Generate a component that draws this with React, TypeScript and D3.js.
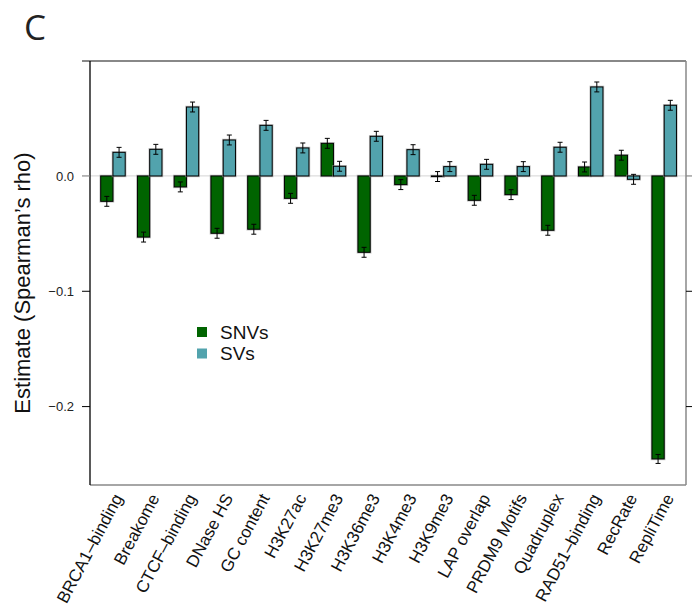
import React from "react";
import * as d3 from "d3";

const categories = [
  "BRCA1–binding", "Breakome", "CTCF–binding", "DNase HS", "GC content", "H3K27ac",
  "H3K27me3", "H3K36me3", "H3K4me3", "H3K9me3", "LAP overlap", "PRDM9 Motifs",
  "Quadruplex", "RAD51–binding", "RecRate", "RepliTime",
];
const series = ["SNVs", "SVs"];
const snvValues = [-0.022, -0.053, -0.0095, -0.0497, -0.0462, -0.0194, 0.0283, -0.0662, -0.0075, -0.0005, -0.0211, -0.0162, -0.0471, 0.0078, 0.018, -0.2454];
const svValues = [0.0205, 0.0231, 0.0598, 0.0312, 0.0439, 0.0243, 0.0084, 0.0344, 0.0228, 0.0081, 0.0101, 0.0081, 0.0249, 0.0772, -0.0029, 0.0613];
const snvErr = [0.0043, 0.0043, 0.0043, 0.0043, 0.0043, 0.0043, 0.0043, 0.0043, 0.0043, 0.0043, 0.0043, 0.0043, 0.0043, 0.0043, 0.0043, 0.0039];
const svErr = [0.0043, 0.0043, 0.0043, 0.0043, 0.0043, 0.0043, 0.0043, 0.0043, 0.0043, 0.0043, 0.0043, 0.0043, 0.0043, 0.0043, 0.0043, 0.0043];
const yTicks = [0.0, -0.1, -0.2];
const colors = ["#006400", "#52A3AD"];

const W = 692, H = 610;
const L = 90, R = 686, T = 61, B = 485;
const FONT = "'Liberation Sans', Arial, Helvetica, sans-serif";

export default function App() {
  const y = d3.scaleLinear().domain([-0.268, 0.0997]).range([B, T]);
  const x = d3.scaleBand<string>().domain(categories).range([100.7, 676.45]).paddingInner(1 / 3).paddingOuter(0);
  const xs = d3.scaleBand<string>().domain(series).range([0, x.bandwidth()]);
  const bw = xs.bandwidth();
  const vals = [snvValues, svValues];
  const errs = [snvErr, svErr];
  const fmt = d3.format(".1f");

  return (
    <svg width={W} height={H} style={{ position: "absolute", left: 0, top: 0 }} fontFamily={FONT}>
      <rect width={W} height={H} fill="#fff" />
      <text x={24} y={40} fontSize={35} fontFamily="'Open Sans', sans-serif" fill="#222">C</text>

      {/* zero line */}
      <line x1={82} x2={692} y1={y(0)} y2={y(0)} stroke="#ddd" strokeWidth={1.2} />

      {/* frame */}
      <line x1={82} x2={R} y1={T} y2={T} stroke="#888" strokeWidth={2} />
      <line x1={R} x2={R} y1={T} y2={B} stroke="#888" strokeWidth={1.5} />
      <line x1={L} x2={R} y1={B} y2={B} stroke="#888" strokeWidth={1.5} />
      <line x1={L} x2={L} y1={T} y2={B} stroke="#000" strokeWidth={1.3} />

      {/* y ticks */}
      {yTicks.map((t) => (
        <g key={t}>
          <line x1={82} x2={L} y1={y(t)} y2={y(t)} stroke={t === 0 ? "#888" : "#000"} strokeWidth={1} />
          <line x1={R} x2={692} y1={y(t)} y2={y(t)} stroke={t === 0 ? "#888" : "#000"} strokeWidth={1} />
          <text x={74} y={y(t)} dy="0.35em" textAnchor="end" fontSize={13} fill="#222">
            {t < 0 ? "\u2212" + fmt(-t) : fmt(t)}
          </text>
        </g>
      ))}

      {/* bars */}
      {categories.map((c, i) => (
        <g key={c} transform={`translate(${x(c)},0)`}>
          {series.map((s, k) => {
            const v = vals[k][i];
            const y0 = y(Math.max(0, v));
            const y1 = y(Math.min(0, v));
            const bx = xs(s) as number;
            return (
              <g key={s}>
                <rect x={bx} y={y0} width={bw} height={Math.max(0.5, y1 - y0)} fill="none" stroke="#999" strokeWidth={2.5} opacity={0.6} />
                <rect x={bx} y={y0} width={bw} height={Math.max(0.5, y1 - y0)} fill={colors[k]} stroke="#000" strokeWidth={1} />
              </g>
            );
          })}
        </g>
      ))}

      {/* error bars */}
      {categories.map((c, i) => (
        <g key={c} transform={`translate(${x(c)},0)`}>
          {series.map((s, k) => {
            const v = vals[k][i];
            const e = errs[k][i];
            const cx = (xs(s) as number) + bw / 2;
            const ya = y(v + e), yb = y(v - e);
            return (
              <g key={s} stroke="#000" strokeWidth={1}>
                <line x1={cx} x2={cx} y1={ya} y2={yb} />
                <line x1={cx - 2.5} x2={cx + 2.5} y1={ya} y2={ya} />
                <line x1={cx - 2.5} x2={cx + 2.5} y1={yb} y2={yb} />
              </g>
            );
          })}
        </g>
      ))}

      {/* x labels */}
      {categories.map((c) => {
        const cx = (x(c) as number) + x.bandwidth() / 2 + 5;
        return (
          <text key={c} transform={`translate(${cx},${B + 10}) rotate(-62)`} textAnchor="end" dy="0.35em" fontSize={17} fill="#111">
            {c}
          </text>
        );
      })}

      {/* y label */}
      <text transform={`translate(30,283) rotate(-90)`} textAnchor="middle" fontSize={22} fill="#111">
        Estimate (Spearman’s rho)
      </text>

      {/* legend */}
      {series.map((s, k) => (
        <g key={s} transform={`translate(197,${327 + k * 21.5})`}>
          <rect width={10} height={10} fill={colors[k]} />
          <text x={23} y={11.5} fontSize={19} fill="#111">{s}</text>
        </g>
      ))}
    </svg>
  );
}
